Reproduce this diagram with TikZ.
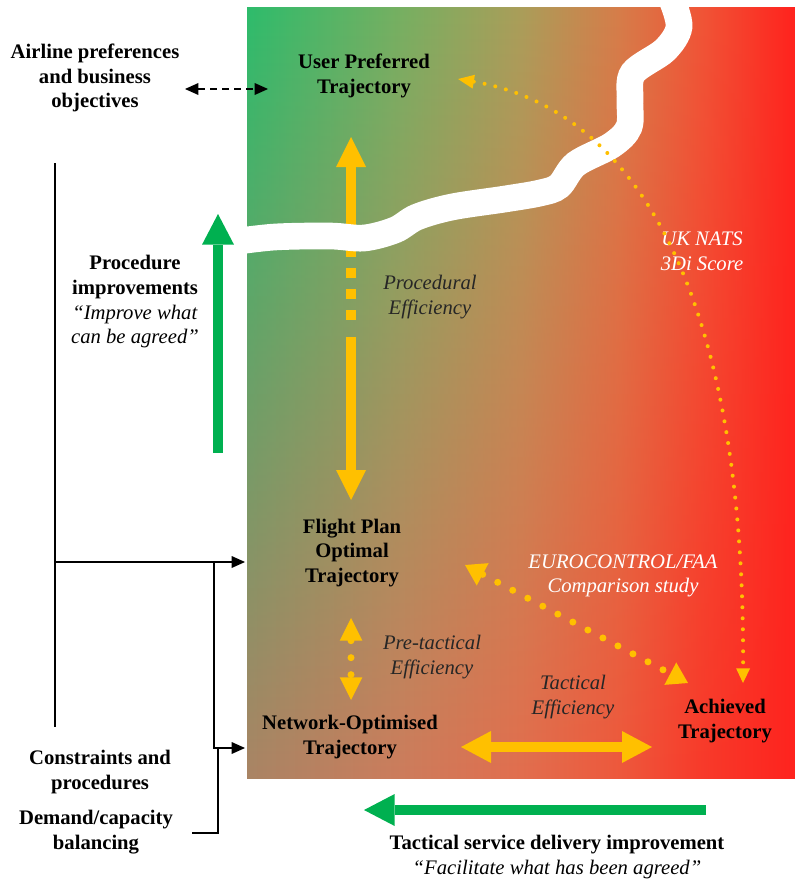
\documentclass[tikz,border=0pt]{standalone}
\usepackage{fontspec}
\setmainfont{Liberation Serif}
\usepackage{xcolor}
\usepackage{tikz}
\usetikzlibrary{arrows.meta, fadings, positioning}

\definecolor{arrowgreen}{RGB}{0,176,80}
\definecolor{gold}{RGB}{255,192,0}
\definecolor{tr0}{RGB}{46,188,108}
\definecolor{tr1}{RGB}{118,176,98}
\definecolor{tr2}{RGB}{170,158,90}
\definecolor{tr3}{RGB}{214,125,74}
\definecolor{tr4}{RGB}{240,85,55}
\definecolor{tr5}{RGB}{255,35,30}
\definecolor{br0}{RGB}{170,132,100}
\definecolor{br1}{RGB}{205,124,92}
\definecolor{br2}{RGB}{226,110,78}
\definecolor{br3}{RGB}{238,88,60}
\definecolor{br4}{RGB}{248,58,42}
\definecolor{br5}{RGB}{255,35,30}

\pgfdeclarehorizontalshading{toprow}{100bp}{color(0bp)=(tr0); color(25bp)=(tr0); color(39bp)=(tr1); color(50bp)=(tr2); color(59bp)=(tr3); color(66.5bp)=(tr4); color(75bp)=(tr5); color(100bp)=(tr5)}
\pgfdeclarehorizontalshading{bottomrow}{100bp}{color(0bp)=(br0); color(25bp)=(br0); color(39bp)=(br1); color(50bp)=(br2); color(59bp)=(br3); color(66.5bp)=(br4); color(75bp)=(br5); color(100bp)=(br5)}
\tikzfading[name=fade up, top color=transparent!100, middle color=transparent!35, bottom color=transparent!0]

\tikzset{
  title/.style={font=\bfseries\fontsize{15.5}{18.5}\selectfont, align=center, inner sep=0pt},
  remark/.style={font=\itshape\fontsize{15.5}{18.5}\selectfont, align=center, inner sep=0pt, text=black!85},
  goldshaft/.style={draw=gold, line width=7.5pt},
  greenarrow/.style={draw=arrowgreen, line width=7.5pt, -{Triangle[length=23pt, width=24pt, line width=0pt]}},
  smalldots/.style={draw=gold, line width=3pt, line cap=round, dash pattern=on 0pt off 8.25pt},
  bigdots/.style={draw=gold, line width=5.25pt, line cap=round, dash pattern=on 0pt off 12.75pt},
  feed/.style={line width=1.5pt, -{Triangle[length=10pt, width=9pt, line width=0pt]}}
}

\begin{document}
\begin{tikzpicture}[x=0.75pt, y=-0.75pt]
  \useasboundingbox (0,0) rectangle (795,881);

  % background
  \shade[shading=toprow] (247,8) rectangle (795,778);
  \shade[shading=bottomrow, path fading=fade up] (247,8) rectangle (795,778);

  % procedural efficiency arrow, under the band
  \coordinate (pe top) at (351,137);
  \coordinate (pe cut) at (351,244);
  \coordinate (pe dash) at (351,247);
  \coordinate (pe gap) at (351,321);
  \coordinate (pe low) at (351,337);
  \coordinate (pe bot) at (351,500);
  \draw[goldshaft, -{Triangle[length=22.5pt, width=22.5pt, line width=0pt]}] (pe cut) -- (pe top);
  \draw[goldshaft, dash pattern=on 7.5pt off 8.25pt] (pe dash) -- (pe gap);
  \draw[goldshaft, -{Triangle[length=22.5pt, width=22.5pt, line width=0pt]}] (pe low) -- (pe bot);

  % white band
  \draw[white, line width=20pt, line cap=round] plot[smooth, tension=0.55] coordinates {
    (232,242) (275,237) (330,236) (364,238) (395,230) (417,217) (452,207)
    (505,199) (540,193) (559,186) (576,164) (612,145) (629,127) (630,100)
    (633,73) (665,50) (679,27) (672,0)};

  % nodes
  \node[title] (airline) at (95,78) {Airline preferences\\and business\\objectives};
  \node[title] (upt) at (364,76) {User Preferred\\Trajectory};
  \node[title] (procimp) at (135,302) {Procedure\\improvements\\\textit{\mdseries “Improve what}\\\textit{\mdseries can be agreed”}};
  \node[remark] (proceff) at (430,297) {Procedural\\Efficiency};
  \node[remark, text=white] (nats) at (702,251) {UK NATS\\3Di Score};
  \node[title] (fpot) at (352,553) {Flight Plan\\Optimal\\Trajectory};
  \node[remark, text=white] (euro) at (623,576) {EUROCONTROL/FAA\\Comparison study};
  \node[remark] (pretac) at (432,657) {Pre-tactical\\Efficiency};
  \node[remark] (taceff) at (573,697) {Tactical\\Efficiency};
  \node[title] (not) at (350,737) {Network-Optimised\\Trajectory};
  \node[title] (achieved) at (725,721) {Achieved\\Trajectory};
  \node[title] (constr) at (100,772) {Constraints and\\procedures};
  \node[title] (demand) at (96,832) {Demand/capacity\\balancing};
  \node[title] (tsdi) at (557,857) {Tactical service delivery improvement\\\textit{\mdseries “Facilitate what has been agreed”}};

  % arrow ends
  \coordinate (pref out) at (185,89);
  \coordinate (upt in) at (268,89);
  \coordinate (uk start) at (458,79);
  \coordinate (uk end) at (743,683);
  \coordinate (cmp start) at (465,565);
  \coordinate (cmp end) at (688,683);
  \coordinate (pt top) at (351,618);
  \coordinate (pt bot) at (351,700);
  \coordinate (te left) at (461,747);
  \coordinate (te right) at (652,747);
  \coordinate (pi bot) at (218,453);
  \coordinate (pi top) at (218,214);
  \coordinate (ts right) at (706,810);
  \coordinate (ts left) at (364,810);

  % connectors
  \draw[line width=1.5pt, dash pattern=on 5pt off 4pt, {Triangle[length=10pt, width=9pt, line width=0pt]}-{Triangle[length=10pt, width=9pt, line width=0pt]}] (pref out) -- (upt in);
  \draw[smalldots, {Triangle[length=12pt, width=10.5pt, line width=0pt]}-{Triangle[length=11pt, width=10.5pt, line width=0pt]}] (uk start) .. controls (640,110) and (745,300) .. (uk end);
  \draw[bigdots, {Triangle[length=15pt, width=19pt, line width=0pt]}-{Triangle[length=15pt, width=19pt, line width=0pt]}] (cmp start) -- (cmp end);
  \draw[bigdots, {Triangle[length=17pt, width=17pt, line width=0pt]}-{Triangle[length=17pt, width=17pt, line width=0pt]}] (pt top) -- (pt bot);
  \draw[goldshaft, {Triangle[length=22.5pt, width=24pt, line width=0pt]}-{Triangle[length=22.5pt, width=24pt, line width=0pt]}] (te left) -- (te right);
  \draw[greenarrow] (pi bot) -- (pi top);
  \draw[greenarrow] (ts right) -- (ts left);

  % feeding lines on the left
  \coordinate (trunk top) at (55,163);
  \coordinate (trunk bot) at (55,727);
  \coordinate (fpot in) at (245,562);
  \coordinate (not in) at (245,748);
  \draw[line width=1.5pt] (trunk top) -- (trunk bot);
  \draw[feed] (trunk top |- fpot in) -- (fpot in);
  \draw[line width=1.5pt] (214,562) -- (214,748) -- (218,748) -- (218,833) -- (192,833);
  \draw[feed] (214,748) -- (not in);
\end{tikzpicture}
\end{document}
